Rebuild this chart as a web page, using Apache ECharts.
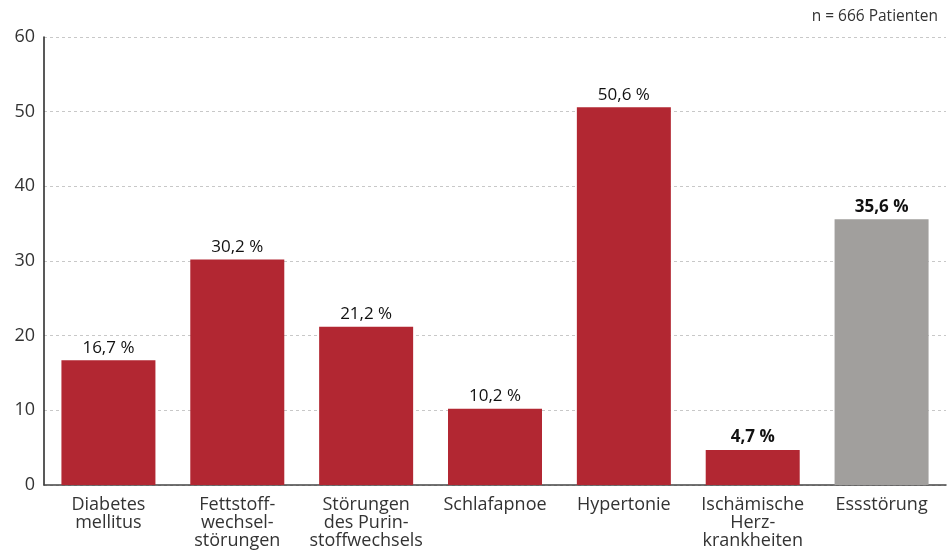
<!DOCTYPE html>
<html><head><meta charset="utf-8">
<script src="https://cdn.jsdelivr.net/npm/echarts@6/dist/echarts.min.js"></script>
<style>html,body{margin:0;padding:0;background:#fff}#c{width:947px;height:553px}</style>
</head><body><div id="c"></div>
<script>
const categories = ['Diabetes\nmellitus','Fettstoff-\nwechsel-\nstörungen','Störungen\ndes Purin-\nstoffwechsels','Schlafapnoe','Hypertonie','Ischämische\nHerz-\nkrankheiten','Essstörung'];
const values = [16.7, 30.2, 21.2, 10.2, 50.6, 4.7, 35.6];
const boldLabels = [false, false, false, false, false, true, true];
const highlight = [false, false, false, false, false, false, true];
const yTicks = [0, 10, 20, 30, 40, 50, 60];

const RED = '#b22732', GREY = '#a19f9d';
const chart = echarts.init(document.getElementById('c'), null, {renderer:'canvas'});
chart.setOption({
  animation:false,
  textStyle:{fontFamily:'Open Sans'},
  title:{text:'n = 666 Patienten', right:4, top:4, textStyle:{fontFamily:'Open Sans', fontSize:15.5, fontWeight:'normal', color:'#333'}},
  grid:{left:44, right:1, top:37, bottom:68},
  xAxis:{type:'category', data:categories,
    axisLine:{lineStyle:{color:'#444', width:1.5}}, axisTick:{show:false},
    axisLabel:{interval:0, color:'#333', fontSize:18, lineHeight:18, margin:11, fontFamily:'Open Sans'}},
  yAxis:{type:'value', min:yTicks[0], max:yTicks[yTicks.length-1], interval:10,
    axisLine:{show:true, lineStyle:{color:'#222', width:1.5}}, axisTick:{show:false},
    axisLabel:{color:'#333', fontSize:18, margin:9, fontFamily:'Open Sans'},
    splitLine:{lineStyle:{color:'#c8c8c8', type:[3,3], width:1}}},
  series:[{type:'bar', barWidth:94,
    data: values.map((v,i)=>({value:v, itemStyle:{color: highlight[i]?GREY:RED},
      label:{show:true, position:'top', distance:4, color:'#111', fontSize:17, fontFamily:'Open Sans',
        fontWeight: boldLabels[i]?'bold':'normal',
        formatter: p => String(p.value).replace('.', ',') + ' %'}}))}]
});
</script></body></html>
